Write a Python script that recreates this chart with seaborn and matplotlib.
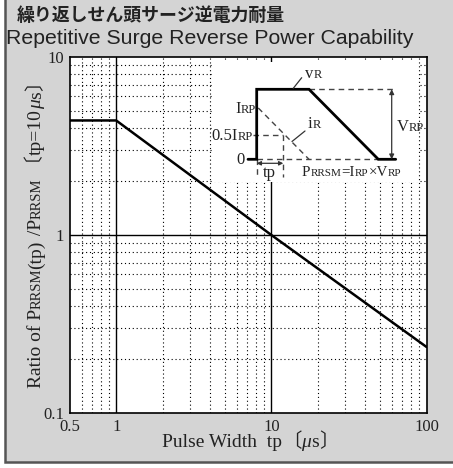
import numpy as np
import pandas as pd
import seaborn as sns
import matplotlib
matplotlib.use("Agg")
import matplotlib.pyplot as plt
from matplotlib.transforms import IdentityTransform

# ---- data ----
pulse_width_us = [0.5, 1.0, 10.0, 100.0]
power_ratio = [4.4, 4.4, 1.0, 0.235]
x_tick_values = [0.5, 1, 10, 100]
x_tick_labels = ["0.5", "1", "10", "100"]
y_tick_values = [0.1, 1, 10]
y_tick_labels = ["0.1", "1", "10"]
title_jp = "繰り返しせん頭サージ逆電力耐量"
title_en = "Repetitive Surge Reverse Power Capability"

sns.set_theme(style="white")
SERIF = ["Liberation Serif", "DejaVu Serif"]
CJK = ["Noto Sans CJK JP"]

W, H = 453, 468
fig = plt.figure(figsize=(W / 100, H / 100), dpi=100)
fig.patch.set_facecolor("white")
BG = "#d4d4d4"
fig.patches.append(plt.Rectangle((4.5 / W, (H - 461.5) / H), 1, 1, transform=fig.transFigure,
                                  facecolor=BG, edgecolor="#555555", linewidth=1.8, zorder=-10))

def fx(px):
    return px / W

def fy(py):
    return (H - py) / H

ax = fig.add_axes([fx(69.5), fy(413), (426.5 - 69.5) / W, (413 - 57) / H])
df = pd.DataFrame({"tp": pulse_width_us, "ratio": power_ratio})
sns.lineplot(data=df, x="tp", y="ratio", ax=ax, color="black", linewidth=1.8, zorder=5)
ax.set_xscale("log")
ax.set_yscale("log")
ax.set_xlim(0.5, 100)
ax.set_ylim(0.1, 10)
ax.set_facecolor("white")
for s in ax.spines.values():
    s.set_color("black")
    s.set_linewidth(1.2)

minor_x = [v * d for d in (0.1, 1, 10) for v in range(2, 10) if 0.5 < v * d < 100]
minor_y = [v * d for d in (0.1, 1) for v in range(2, 10)]
for v in minor_x:
    ax.axvline(v, color="black", linestyle=(0, (1, 2.5)), linewidth=0.8, zorder=1)
for v in minor_y:
    ax.axhline(v, color="black", linestyle=(0, (1, 2.5)), linewidth=0.8, zorder=1)
for v in [1, 10]:
    ax.axvline(v, color="black", linewidth=1.0, zorder=2)
ax.axhline(1, color="black", linewidth=1.0, zorder=2)

ax.set_xticks(x_tick_values)
ax.set_xticklabels(x_tick_labels)
ax.set_yticks(y_tick_values)
ax.set_yticklabels(y_tick_labels)
ax.minorticks_off()
ax.tick_params(axis="both", length=0, pad=4, labelsize=12, colors="#222222")
for lab in ax.get_xticklabels() + ax.get_yticklabels():
    lab.set_family(SERIF)
ax.set_xlabel("")
ax.set_ylabel("")

fig.text(fx(17), fy(16), title_jp, family=CJK, fontweight="bold",
         fontsize=12.9, color="#222222", va="center", ha="left")
fig.text(fx(6), fy(38.5), title_en, family=["Liberation Sans", "DejaVu Sans"],
         fontsize=15.3, color="#222222", va="center", ha="left")

renderer = fig.canvas.get_renderer()
ID = IdentityTransform()


def pieces_text(x, y, pieces, rot=0, center=False, color="#222222"):
    """x,y in reference pixel coords (y from top); baseline anchor."""
    X, Y = x, H - y
    texts = []
    for p in pieces:
        s, size, style = p[:3]
        fam = p[3] if len(p) > 3 else SERIF
        t = fig.text(0, 0, s, fontsize=size, family=fam, style=style, color=color,
                     transform=ID, rotation=rot, rotation_mode="anchor",
                     ha="left", va="baseline", zorder=20)
        texts.append(t)
    widths = []
    for t in texts:
        bb = t.get_window_extent(renderer)
        widths.append(bb.height if rot == 90 else bb.width)
    total = sum(widths)
    pos = -total / 2 if center else 0
    for t, w in zip(texts, widths):
        if rot == 90:
            t.set_position((X, Y + pos))
        else:
            t.set_position((X + pos, Y))
        pos += w
    return texts

BIG, SMALL = 14, 10.5
pieces_text(250, 447, [("Pulse Width  tp", BIG, "normal"), ("〔", BIG, "normal", CJK),
                       ("μ", BIG, "italic"), ("s", BIG, "normal"), ("〕", BIG, "normal", CJK)],
            center=True)
# (leading space in the bracket piece keeps the rotated glyph's bearing correct)
pieces_text(41, 230, [("Ratio of P", BIG, "normal"), ("RRSM", SMALL, "normal"),
                      ("(tp)", BIG, "normal"), (" /P", BIG, "normal"), ("RRSM", SMALL, "normal"),
                      (" 〔", BIG, "normal", CJK), ("tp=10", BIG, "normal"), ("μ", BIG, "italic"),
                      ("s", BIG, "normal"), ("〕", BIG, "normal", CJK)], rot=90, center=True)

# ---- inset schematic (coordinates in reference pixel space) ----
ix0, ix1, iy0, iy1 = 212, 418, 62, 182
ins = fig.add_axes([fx(ix0), fy(iy1), (ix1 - ix0) / W, (iy1 - iy0) / H], zorder=6)
ins.set_xlim(ix0, ix1)
ins.set_ylim(iy1, iy0)
ins.set_facecolor("white")
ins.set_xticks([])
ins.set_yticks([])
for s in ins.spines.values():
    s.set_visible(False)

y0, ytop, yhalf, yirp = 159.3, 89.3, 135, 108
xl, xh, xd, xe = 256.7, 309, 378.3, 395.7
xtp = 283.3
dash = dict(color="#444444", linewidth=1.0, linestyle=(0, (4, 3)))
ins.plot([xl, xd], [y0, y0], **dash)
ins.plot([xh, xe], [ytop, ytop], **dash)
ins.plot([258.3, xh], [yirp, y0], **dash)
ins.plot([253, xtp], [yhalf, yhalf], **dash)
ins.plot([xtp, xtp], [yhalf, 177], **dash)
ins.plot([xl, xl], [y0, 177], **dash)
ins.plot([248, xl, xl, xh, xd, xe], [y0, y0, ytop, ytop, y0, y0], color="black",
         linewidth=2.0, solid_joinstyle="miter")
ins.annotate("", xy=(391.7, ytop), xytext=(391.7, y0),
             arrowprops=dict(arrowstyle="<|-|>", color="#333333", lw=0.9,
                             mutation_scale=7, shrinkA=0, shrinkB=0))
ins.annotate("", xy=(xl, 163.3), xytext=(xtp, 163.3),
             arrowprops=dict(arrowstyle="<|-|>", color="#333333", lw=0.9,
                             mutation_scale=6, shrinkA=0, shrinkB=0))
ins.plot([301.7, 293.3], [77.7, 88.3], color="#333333", linewidth=0.9)
ins.plot([305, 292], [131, 141.5], color="#333333", linewidth=0.9)

IB, IS = 12, 9
pieces_text(305, 78, [("v", IB, "normal"), ("R", IS, "normal")])
pieces_text(235, 113, [("I", IB, "normal"), ("RP", IS, "normal")])
pieces_text(211, 140, [("0.5I", IB, "normal"), ("RP", IS, "normal")])
pieces_text(236, 164, [("0", IB, "normal")])
pieces_text(308, 128, [("i", IB, "normal"), ("R", IS, "normal")])
pieces_text(397, 131, [("V", IB, "normal"), ("RP", IS, "normal")])
pieces_text(263, 177, [("tp", IB, "normal")])
pieces_text(302, 176, [("P", 10.8, "normal"), ("RRSM", 8, "normal"), ("=I", 10.8, "normal"),
                       ("RP", 8, "normal"), ("×V", 10.8, "normal"), ("RP", 8, "normal")])

fig.savefig("out.png", dpi=100, facecolor="white")
